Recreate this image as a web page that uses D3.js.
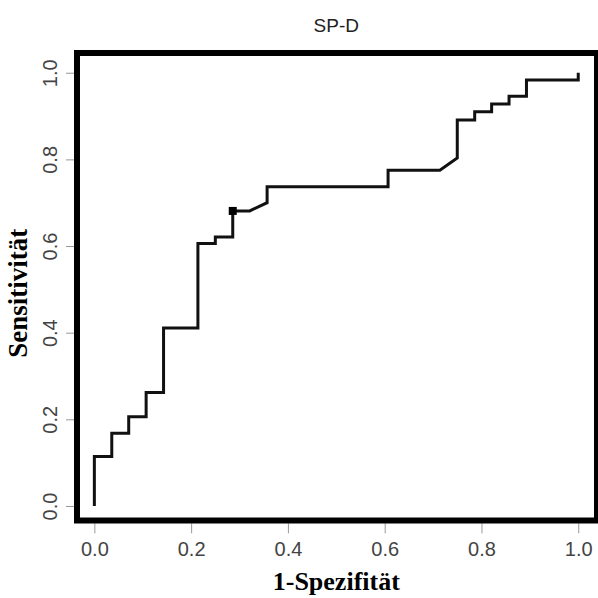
<!DOCTYPE html>
<html>
<head>
<meta charset="utf-8">
<script src="https://cdnjs.cloudflare.com/ajax/libs/d3/7.8.5/d3.min.js"></script>
<style>
body { margin: 0; background: #fff; }
</style>
</head>
<body>
<div id="chart"></div>
<script>
// ROC curve for SP-D
var title = "SP-D";
var xTitle = "1-Spezifität";
var yTitle = "Sensitivität";
var tickValues = [0, 0.2, 0.4, 0.6, 0.8, 1.0];

// curve vertices (1 - specificity, sensitivity)
var fpr = [0, 0, 0.036, 0.036, 0.071, 0.071, 0.107, 0.107, 0.143, 0.143, 0.214, 0.214,
           0.25, 0.25, 0.286, 0.286, 0.321, 0.357, 0.357, 0.607, 0.607, 0.714, 0.75, 0.75,
           0.786, 0.786, 0.821, 0.821, 0.857, 0.857, 0.893, 0.893, 1.0, 1.0];
var tpr = [0, 0.114, 0.114, 0.168, 0.168, 0.206, 0.206, 0.262, 0.262, 0.411, 0.411, 0.606,
           0.606, 0.621, 0.621, 0.681, 0.681, 0.700, 0.737, 0.737, 0.775, 0.775, 0.803, 0.891,
           0.891, 0.910, 0.910, 0.928, 0.928, 0.946, 0.946, 0.983, 0.983, 1.0];
// optimal cut-off point marked on the curve
var cutX = [0.286];
var cutY = [0.681];

var width = 598, height = 598;

var svg = d3.select("#chart")
    .append("svg")
    .attr("width", width)
    .attr("height", height);

var x = d3.scaleLinear().domain([-0.04, 1.04]).range([75, 597.6]);
var y = d3.scaleLinear().domain([-0.04, 1.04]).range([523.3, 55.4]);

var fmt = d3.format(".1f");

// x axis
var gx = svg.append("g")
    .attr("transform", "translate(0," + y(-0.04) + ")")
    .call(d3.axisBottom(x).tickValues(tickValues).tickSize(10).tickFormat(fmt));
gx.select(".domain").remove();
gx.selectAll("line").attr("stroke", "#999").attr("stroke-width", 1);
gx.selectAll("text")
    .attr("y", 33).attr("dy", 0)
    .attr("fill", "#444")
    .style("font-family", "'Liberation Sans', Arial, sans-serif")
    .style("font-size", "20px");

// y axis
var gy = svg.append("g")
    .attr("transform", "translate(" + x(-0.04) + ",0)")
    .call(d3.axisLeft(y).tickValues(tickValues).tickSize(9).tickFormat(fmt));
gy.select(".domain").remove();
gy.selectAll("line").attr("stroke", "#999").attr("stroke-width", 1);
gy.selectAll("text")
    .attr("x", 0).attr("dy", 0)
    .attr("text-anchor", "middle")
    .attr("transform", "translate(-18,0) rotate(-90)")
    .attr("fill", "#444")
    .style("font-family", "'Liberation Sans', Arial, sans-serif")
    .style("font-size", "20px");

// plot box
svg.append("rect")
    .attr("x", 77)
    .attr("y", 53)
    .attr("width", 520)
    .attr("height", 467.5)
    .attr("fill", "none")
    .attr("stroke", "#000")
    .attr("stroke-width", 6);

// ROC line
var pts = fpr.map(function(d, i) { return [d, tpr[i]]; });
svg.append("path")
    .datum(pts)
    .attr("fill", "none")
    .attr("stroke", "#111")
    .attr("stroke-width", 3)
    .attr("d", d3.line()
        .x(function(d) { return x(d[0]); })
        .y(function(d) { return y(d[1]); }));

// cut-off marker
svg.selectAll("rect.cut")
    .data(cutX)
    .enter()
    .append("rect")
    .attr("class", "cut")
    .attr("x", function(d) { return x(d) - 4; })
    .attr("y", function(d, i) { return y(cutY[i]) - 4; })
    .attr("width", 8)
    .attr("height", 8)
    .attr("fill", "#000");

// titles
svg.append("text")
    .attr("x", (x(-0.04) + x(1.04)) / 2)
    .attr("y", 32)
    .attr("text-anchor", "middle")
    .attr("fill", "#222")
    .style("font-family", "'Liberation Sans', Arial, sans-serif")
    .style("font-size", "19px")
    .text(title);

svg.append("text")
    .attr("x", (x(-0.04) + x(1.04)) / 2)
    .attr("y", 590)
    .attr("text-anchor", "middle")
    .attr("fill", "#000")
    .style("font-family", "'Liberation Serif', 'Times New Roman', serif")
    .style("font-weight", "bold")
    .style("font-size", "26px")
    .text(xTitle);

svg.append("text")
    .attr("transform", "translate(27," + ((y(-0.04) + y(1.04)) / 2 + 4) + ") rotate(-90)")
    .attr("text-anchor", "middle")
    .attr("fill", "#000")
    .style("font-family", "'Liberation Serif', 'Times New Roman', serif")
    .style("font-weight", "bold")
    .style("font-size", "27px")
    .text(yTitle);
</script>
</body>
</html>
